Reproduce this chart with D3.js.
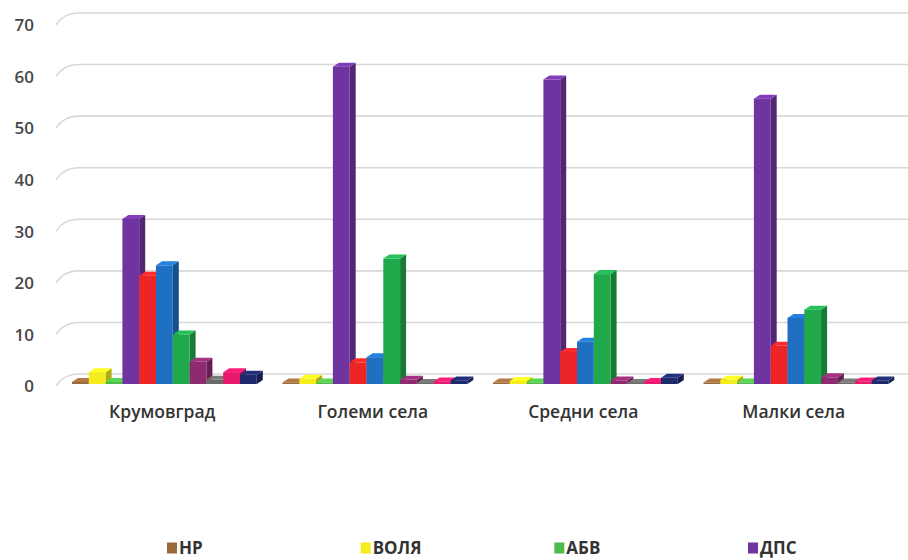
<!DOCTYPE html>
<html>
<head>
<meta charset="utf-8">
<script src="https://cdn.jsdelivr.net/npm/d3@7"></script>
<style>
  body { margin: 0; background: #fff; }
  text { font-family: "Open Sans", "DejaVu Sans", sans-serif; }
</style>
</head>
<body>
<div id="chart-area"></div>
<script>
// data
var categories = ["Крумовград", "Големи села", "Средни села", "Малки села"];
var seriesNames = ["НР", "ВОЛЯ", "АБВ", "ДПС", "БСП", "ГЕРБ", "ДОСТ", "ОП", "НФСБ", "РБ", "Други"];
var seriesColors = ["#9b6a3c", "#f4ec1c", "#4dba4a", "#7034a0", "#ee2526", "#1f70c1", "#20a94b", "#8e2b70", "#6b6b6b", "#e8196b", "#1d2a6c"];

var nr    = [0.4, 0.3, 0.3, 0.3];
var volya = [2.3, 1.0, 0.6, 0.8];
var abv   = [0.4, 0.3, 0.3, 0.3];
var dps   = [32, 61.5, 59, 55.3];
var bsp   = [21, 4.2, 6.2, 7.4];
var gerb  = [23, 5.2, 8.2, 12.8];
var dost  = [9.6, 24.3, 21.3, 14.4];
var op    = [4.3, 0.8, 0.7, 1.3];
var nfsb  = [0.8, 0.2, 0.2, 0.3];
var rb    = [2.3, 0.5, 0.4, 0.5];
var other = [1.8, 0.7, 1.2, 0.7];
var seriesValues = [nr, volya, abv, dps, bsp, gerb, dost, op, nfsb, rb, other];

var yTicks = [0, 10, 20, 30, 40, 50, 60, 70];
var legendNames = seriesNames.slice(0, 4);

var width = 908, height = 560;
var svg = d3.select("#chart-area")
  .append("svg")
  .attr("width", width)
  .attr("height", height);

// front and back (wall) scales for the 3D look
var yF = d3.scaleLinear().domain([0, 70]).range([384, 22.8]);
var yB = d3.scaleLinear().domain([0, 70]).range([374, 13]);

var x0 = d3.scaleBand().domain(categories).range([57, 899]);
var x1 = d3.scaleBand().domain(seriesNames).range([15, 15 + 11 * 16.8]);

var dx = 6, dy = 4;

// gridlines on the back wall
svg.append("g").selectAll("path")
  .data(yTicks)
  .enter()
  .append("path")
  .attr("d", function (v) {
    return "M56," + (yF(v) + 2) + " Q64," + yB(v) + " 78," + yB(v) + " H908";
  })
  .attr("fill", "none")
  .attr("stroke", "#d8d8d8")
  .attr("stroke-width", 1.6);

// y labels
var leftAxis = d3.axisLeft(yF).tickValues(yTicks).tickSize(0).tickPadding(0);
var ya = svg.append("g")
  .attr("transform", "translate(34,2.5)")
  .call(leftAxis);
ya.select(".domain").remove();
ya.selectAll("text")
  .attr("font-size", "17px")
  .attr("font-weight", 600)
  .attr("fill", "#474747");

// bars
var rows = [];
categories.forEach(function (c, ci) {
  seriesNames.forEach(function (s, si) {
    rows.push({ cat: c, name: s, value: seriesValues[si][ci], color: seriesColors[si] });
  });
});

var bars = svg.append("g").selectAll("g")
  .data(rows)
  .enter()
  .append("g");

var bw = x1.bandwidth();

bars.append("path")   // right side
  .attr("d", function (d) {
    var x = x0(d.cat) + x1(d.name) + bw, yt = yF(d.value), yb = yF(0);
    return "M" + x + "," + yb + " L" + (x + dx) + "," + (yb - dy) +
      " L" + (x + dx) + "," + (yt - dy) + " L" + x + "," + yt + "Z";
  })
  .attr("fill", function (d) { return d3.color(d.color).darker(0.9); });

bars.append("path")   // top
  .attr("d", function (d) {
    var x = x0(d.cat) + x1(d.name), yt = yF(d.value);
    return "M" + x + "," + yt + " L" + (x + dx) + "," + (yt - dy) +
      " L" + (x + bw + dx) + "," + (yt - dy) + " L" + (x + bw) + "," + yt + "Z";
  })
  .attr("fill", function (d) { return d3.color(d.color).brighter(0.4); });

bars.append("rect")   // front
  .attr("x", function (d) { return x0(d.cat) + x1(d.name); })
  .attr("y", function (d) { return yF(d.value); })
  .attr("width", bw)
  .attr("height", function (d) { return yF(0) - yF(d.value); })
  .attr("fill", function (d) { return d.color; });

// category labels
var bottomAxis = d3.axisBottom(x0).tickSize(0).tickPadding(0);
var xa = svg.append("g")
  .attr("transform", "translate(0,406)")
  .call(bottomAxis);
xa.select(".domain").remove();
xa.selectAll("text")
  .attr("font-size", "17.5px")
  .attr("font-weight", 600)
  .attr("fill", "#333");

// legend (first row only, as in the picture)
var lx = d3.scaleLinear().domain([0, 3]).range([167, 748]);
var leg = svg.append("g").selectAll("g")
  .data(legendNames)
  .enter()
  .append("g")
  .attr("transform", function (d, i) { return "translate(" + lx(i) + ",548)"; });

leg.append("rect")
  .attr("x", 0)
  .attr("y", -5.5)
  .attr("width", 10)
  .attr("height", 11)
  .attr("fill", function (d, i) { return seriesColors[i]; });

leg.append("text")
  .attr("x", 12)
  .attr("dy", "0.36em")
  .attr("font-size", "17px")
  .attr("font-weight", 700)
  .attr("fill", "#333")
  .style("font-family", "'Liberation Sans Narrow', 'Open Sans', sans-serif")
  .text(function (d) { return d; });
</script>
</body>
</html>
